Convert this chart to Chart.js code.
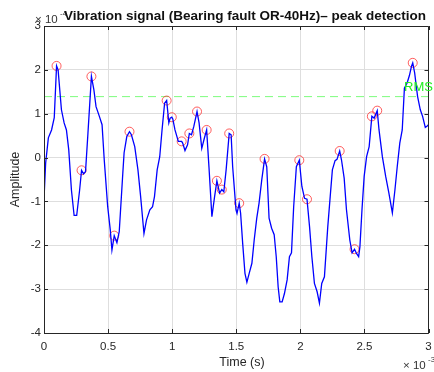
<!DOCTYPE html>
<html>
<head>
<meta charset="utf-8">
<script src="https://cdn.jsdelivr.net/npm/chart.js@4.4.1/dist/chart.umd.min.js"></script>
<style>
  html, body { margin: 0; padding: 0; background: #fff; }
  #wrap { width: 434px; height: 372px; position: relative; }
</style>
</head>
<body>
<div id="wrap"><canvas id="chart-signal"></canvas></div>
<script>
// time in units of 1e-3 s, amplitude in units of 1e-4
const time = [0, 0.013, 0.034, 0.059, 0.080, 0.098, 0.110, 0.136, 0.157, 0.175, 0.193, 0.214, 0.235, 0.255, 0.278, 0.293, 0.309, 0.324, 0.343, 0.370,
  0.389, 0.406, 0.432, 0.453, 0.470, 0.497, 0.517, 0.530, 0.548, 0.569, 0.587, 0.615, 0.625, 0.646, 0.667, 0.682, 0.708, 0.733, 0.754, 0.780,
  0.800, 0.826, 0.847, 0.862, 0.883, 0.903, 0.921, 0.941, 0.957, 0.974, 0.984, 0.997, 1.005, 1.022, 1.048, 1.074, 1.082, 1.100, 1.120, 1.134,
  1.151, 1.169, 1.194, 1.210, 1.231, 1.251, 1.269, 1.287, 1.310, 1.331, 1.349, 1.370, 1.387, 1.403, 1.421, 1.445, 1.460, 1.472, 1.498, 1.506,
  1.523, 1.534, 1.550, 1.568, 1.583, 1.601, 1.622, 1.640, 1.660, 1.678, 1.699, 1.721, 1.738, 1.756, 1.776, 1.796, 1.812, 1.827, 1.840, 1.858,
  1.876, 1.897, 1.915, 1.931, 1.948, 1.969, 1.992, 2.012, 2.033, 2.052, 2.072, 2.090, 2.110, 2.131, 2.149, 2.167, 2.188, 2.214, 2.233, 2.250,
  2.271, 2.286, 2.307, 2.321, 2.342, 2.360, 2.386, 2.404, 2.423, 2.437, 2.455, 2.465, 2.481, 2.498, 2.517, 2.537, 2.558, 2.576, 2.600, 2.614,
  2.640, 2.666, 2.691, 2.718, 2.738, 2.756, 2.776, 2.795, 2.812, 2.833, 2.851, 2.867, 2.877, 2.892, 2.905, 2.915, 2.936, 2.954, 2.975, 2.990, 3.0];
const amplitude = [-0.95, -0.12, 0.45, 0.63, 0.91, 2.09, 2.0, 1.09, 0.79, 0.63, 0.18, -0.74, -1.32, -1.32, -0.74, -0.29, -0.37, -0.32, 0.56, 1.85,
  1.55, 1.16, 0.94, 0.75, -0.05, -1.12, -1.65, -2.11, -1.78, -1.94, -1.69, -0.35, 0.11, 0.48, 0.59, 0.52, 0.25, -0.28, -0.89, -1.73,
  -1.42, -1.19, -1.12, -0.89, -0.28, 0.02, 0.63, 1.24, 1.30, 0.79, 0.90, 0.92, 0.88, 0.63, 0.37, 0.37, 0.33, 0.16, 0.29, 0.55,
  0.52, 0.71, 1.05, 0.79, 0.21, 0.44, 0.63, -0.21, -1.35, -0.89, -0.53, -0.81, -0.73, -0.78, -0.28, 0.55, 0.52, -0.21, -1.19, -1.27,
  -1.04, -1.27, -1.95, -2.64, -2.84, -2.64, -2.41, -1.88, -1.38, -1.04, -0.51, -0.03, -0.21, -1.38, -1.61, -1.76, -2.26, -2.95, -3.29, -3.29,
  -3.10, -2.79, -2.26, -2.17, -1.12, -0.21, -0.06, -0.66, -0.93, -0.95, -1.58, -2.26, -2.87, -3.06, -3.32, -2.87, -2.72, -1.58, -0.89, -0.28,
  -0.07, -0.04, 0.15, -0.05, -0.47, -1.19, -1.88, -2.17, -2.09, -2.18, -2.26, -2.03, -1.19, -0.43, 0.02, 0.25, 0.94, 0.90, 1.07, 0.63,
  0.02, -0.43, -0.81, -1.26, -0.74, -0.21, 0.33, 0.63, 1.58, 1.70, 1.87, 2.08, 2.16, 1.93, 1.62, 1.39, 1.09, 0.94, 0.69, 0.72, 0.75];
const peakTime = [0.098, 0.293, 0.370, 0.548, 0.667, 0.957, 0.997, 1.074, 1.134, 1.194, 1.269, 1.349, 1.387, 1.445, 1.523, 1.721, 1.992, 2.052, 2.307, 2.423, 2.558, 2.600, 2.877];
const peakAmp = [2.09, -0.29, 1.85, -1.78, 0.59, 1.30, 0.92, 0.37, 0.55, 1.05, 0.63, -0.53, -0.73, 0.55, -1.04, -0.03, -0.06, -0.95, 0.15, -2.09, 0.94, 1.07, 2.16];
const rmsLevel = 1.39;
const xTicks = [0, 0.5, 1, 1.5, 2, 2.5, 3];
const yTicks = [3, 2, 1, 0, -1, -2, -3, -4];

const axisColor = "#262626";
const font = '"Liberation Sans", Arial, sans-serif';

const matlabAxes = {
  id: "matlabAxes",
  afterDraw(c) {
    const ctx = c.ctx;
    const a = c.chartArea;
    const xs = c.scales.x;
    const ys = c.scales.y;
    ctx.save();
    ctx.strokeStyle = axisColor;
    ctx.lineWidth = 1;
    ctx.beginPath();
    ctx.rect(Math.round(a.left) + 0.5, Math.round(a.top) + 0.5, Math.round(a.right - a.left) - 1, Math.round(a.bottom - a.top));
    xTicks.forEach((t) => {
      const px = Math.round(xs.getPixelForValue(t)) + 0.5;
      ctx.moveTo(px, a.bottom); ctx.lineTo(px, a.bottom - 4);
      ctx.moveTo(px, a.top); ctx.lineTo(px, a.top + 4);
    });
    yTicks.forEach((t) => {
      const py = Math.round(ys.getPixelForValue(t)) + 0.5;
      ctx.moveTo(a.left, py); ctx.lineTo(a.left + 4, py);
      ctx.moveTo(a.right, py); ctx.lineTo(a.right - 4, py);
    });
    ctx.stroke();

    ctx.fillStyle = axisColor;
    ctx.font = "11.5px " + font;
    ctx.textAlign = "center";
    ctx.textBaseline = "middle";
    xTicks.forEach((t) => ctx.fillText(String(t), xs.getPixelForValue(t), 347));
    ctx.textAlign = "right";
    yTicks.forEach((t) => ctx.fillText(String(t), 41, ys.getPixelForValue(t)));

    // exponents
    ctx.textAlign = "left";
    ctx.fillStyle = "#333";
    ctx.fillText("\u00d7 10", 403, 366);
    ctx.font = "8px " + font;
    ctx.fillText("-3", 428, 360);
    ctx.font = "11.5px " + font;
    ctx.fillText("\u00d7 10", 35, 20);
    ctx.font = "8px " + font;
    ctx.fillText("-4", 60, 14);

    // axis labels
    ctx.fillStyle = axisColor;
    ctx.font = "12.5px " + font;
    ctx.textAlign = "center";
    ctx.fillText("Time (s)", 242, 363);
    ctx.save();
    ctx.translate(16, (a.top + a.bottom) / 2);
    ctx.rotate(-Math.PI / 2);
    ctx.fillText("Amplitude", 0, 0);
    ctx.restore();

    // RMS label
    ctx.fillStyle = "#22ee22";
    ctx.font = "13px " + font;
    ctx.textAlign = "left";
    ctx.fillText("RMS", 404, ys.getPixelForValue(rmsLevel) - 9);

    // title
    ctx.fillStyle = "#111";
    ctx.font = "bold 13.5px " + font;
    ctx.textAlign = "center";
    ctx.fillText("Vibration signal (Bearing fault OR-40Hz)\u2013 peak detection", 245, 16);
    ctx.restore();
  },
};

const chart = new Chart(document.getElementById("chart-signal"), {
  type: "line",
  data: {
    datasets: [
      {
        label: "signal",
        data: time.map((t, i) => ({ x: t, y: amplitude[i] })),
        borderColor: "#0000ff",
        borderWidth: 1.3,
        pointRadius: 0,
        tension: 0,
      },
      {
        label: "peaks",
        data: peakTime.map((t, i) => ({ x: t, y: peakAmp[i] })),
        showLine: false,
        pointRadius: 4.5,
        pointBorderWidth: 1,
        pointBorderColor: "rgba(255,40,40,0.75)",
        pointBackgroundColor: "rgba(0,0,0,0)",
      },
      {
        label: "RMS",
        data: [{ x: 0, y: rmsLevel }, { x: 3, y: rmsLevel }],
        borderColor: "#7dfc7d",
        borderWidth: 1,
        borderDash: [8, 5],
        pointRadius: 0,
      },
    ],
  },
  options: {
    responsive: true,
    maintainAspectRatio: false,
    animation: false,
    events: [],
    layout: { padding: { top: 26, right: 1, left: 0, bottom: 0 } },
    plugins: { legend: { display: false }, tooltip: { enabled: false } },
    scales: {
      x: {
        type: "linear",
        min: 0,
        max: 3,
        ticks: { display: false, stepSize: 0.5 },
        grid: { color: "#dedede", drawTicks: false },
        border: { display: false },
        afterFit: (s) => { s.height = 39; },
      },
      y: {
        min: -4,
        max: 3,
        ticks: { display: false, stepSize: 1 },
        grid: { color: "#dedede", drawTicks: false },
        border: { display: false },
        afterFit: (s) => { s.width = 44; },
      },
    },
  },
  plugins: [matlabAxes],
});
</script>
</body>
</html>
